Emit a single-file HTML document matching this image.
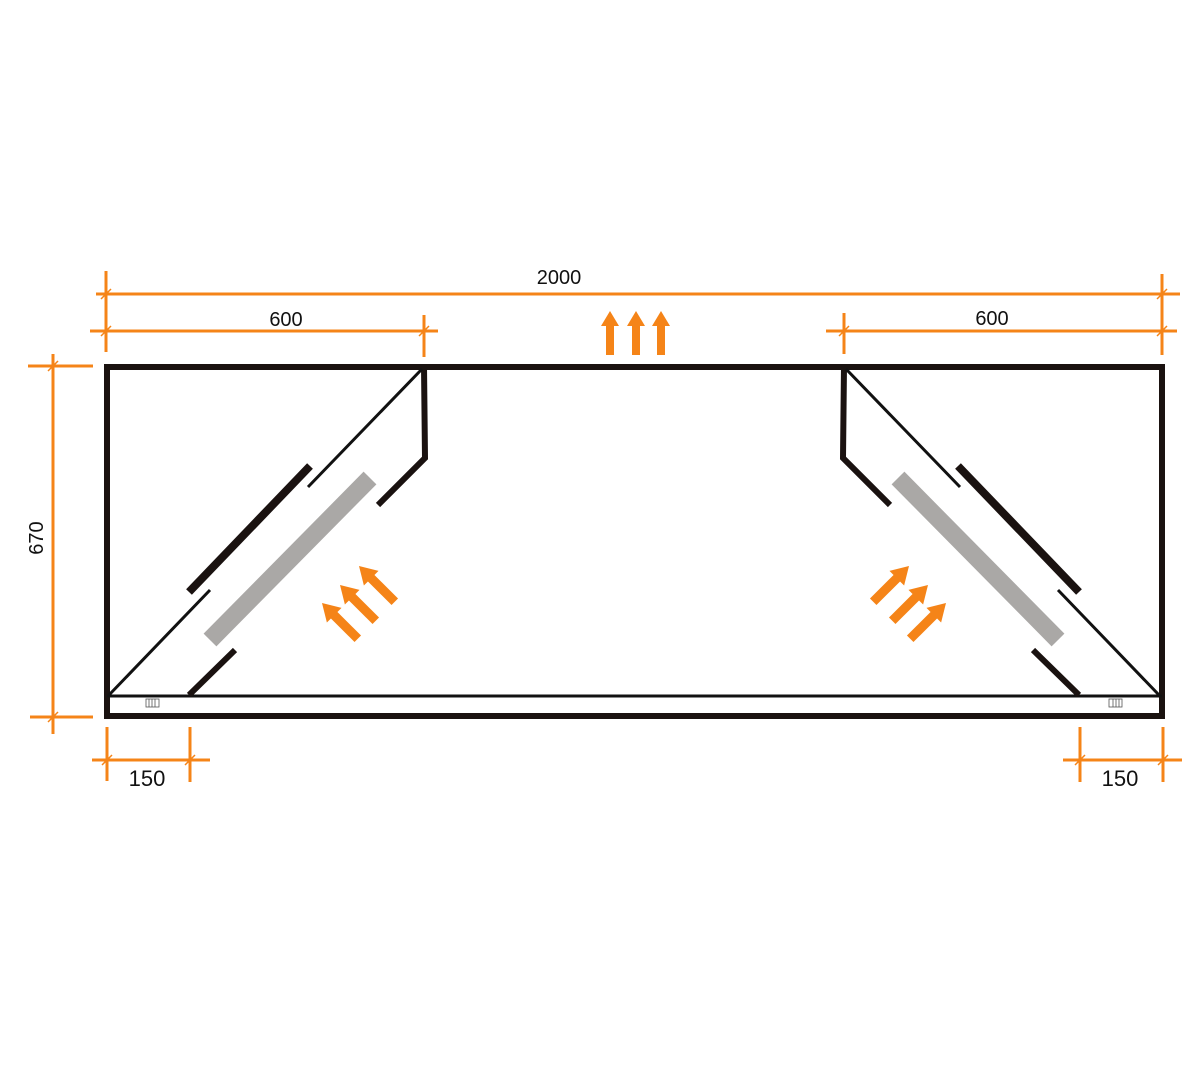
<!DOCTYPE html>
<html><head><meta charset="utf-8"><style>
html,body{margin:0;padding:0;background:#fff;}
svg{display:block;}
text{font-family:"Liberation Sans",sans-serif;fill:#111;}
</style></head><body>
<svg width="1200" height="1080" viewBox="0 0 1200 1080" xmlns="http://www.w3.org/2000/svg">
<defs>
<path id="ar" d="M0,0 L9,15 L4,15 L4,44 L-4,44 L-4,15 L-9,15 Z" fill="#f58418"/>
<g id="half">
  <polyline points="424,366 425,458 378,505" fill="none" stroke="#1a1210" stroke-width="6"/>
  <line x1="422" y1="369" x2="308" y2="487" stroke="#111" stroke-width="3"/>
  <line x1="310" y1="466" x2="189" y2="592" stroke="#1a1210" stroke-width="8"/>
  <line x1="210" y1="590" x2="109" y2="695" stroke="#111" stroke-width="3"/>
  <line x1="370" y1="478" x2="210" y2="640" stroke="#aaa8a6" stroke-width="18"/>
  <line x1="235" y1="650" x2="189" y2="695" stroke="#1a1210" stroke-width="6"/>
  <g fill="none" stroke="#555" stroke-width="0.8">
    <rect x="146" y="699" width="13" height="8"/>
    <line x1="149" y1="699" x2="149" y2="707"/><line x1="152" y1="699" x2="152" y2="707"/><line x1="155" y1="699" x2="155" y2="707"/>
  </g>
  <use href="#ar" transform="translate(322,603) rotate(-45) scale(1.15)"/>
  <use href="#ar" transform="translate(340,585) rotate(-45) scale(1.15)"/>
  <use href="#ar" transform="translate(359,566) rotate(-45) scale(1.15)"/>
</g>
</defs>

<rect x="107" y="367" width="1055" height="349" fill="none" stroke="#1a1210" stroke-width="6"/>
<line x1="107" y1="696" x2="1162" y2="696" stroke="#111" stroke-width="3"/>

<use href="#half"/>
<use href="#half" transform="translate(1268,0) scale(-1,1)"/>

<use href="#ar" transform="translate(610,311)"/>
<use href="#ar" transform="translate(636,311)"/>
<use href="#ar" transform="translate(661,311)"/>

<g stroke="#f58418" stroke-width="3" fill="none">
  <line x1="96" y1="294" x2="1180" y2="294"/>
  <line x1="106" y1="271" x2="106" y2="352"/>
  <line x1="1162" y1="274" x2="1162" y2="355"/>
  <line x1="90" y1="331" x2="438" y2="331"/>
  <line x1="424" y1="315" x2="424" y2="357"/>
  <line x1="826" y1="331" x2="1177" y2="331"/>
  <line x1="844" y1="313" x2="844" y2="354"/>
  <line x1="53" y1="354" x2="53" y2="734"/>
  <line x1="28" y1="366" x2="93" y2="366"/>
  <line x1="30" y1="717" x2="93" y2="717"/>
  <line x1="92" y1="760" x2="210" y2="760"/>
  <line x1="107" y1="727" x2="107" y2="781"/>
  <line x1="190" y1="727" x2="190" y2="782"/>
  <line x1="1063" y1="760" x2="1182" y2="760"/>
  <line x1="1080" y1="727" x2="1080" y2="782"/>
  <line x1="1163" y1="727" x2="1163" y2="782"/>
</g>
<g stroke="#f58418" stroke-width="1.5">
  <line x1="101" y1="299" x2="111" y2="289"/>
  <line x1="1157" y1="299" x2="1167" y2="289"/>
  <line x1="101" y1="336" x2="111" y2="326"/>
  <line x1="419" y1="336" x2="429" y2="326"/>
  <line x1="839" y1="336" x2="849" y2="326"/>
  <line x1="1157" y1="336" x2="1167" y2="326"/>
  <line x1="48" y1="371" x2="58" y2="361"/>
  <line x1="48" y1="722" x2="58" y2="712"/>
  <line x1="102" y1="765" x2="112" y2="755"/>
  <line x1="185" y1="765" x2="195" y2="755"/>
  <line x1="1075" y1="765" x2="1085" y2="755"/>
  <line x1="1158" y1="765" x2="1168" y2="755"/>
</g>

<text x="559" y="284" font-size="20" text-anchor="middle">2000</text>
<text x="286" y="326" font-size="20" text-anchor="middle">600</text>
<text x="992" y="325" font-size="20" text-anchor="middle">600</text>
<text x="147" y="786" font-size="22" text-anchor="middle">150</text>
<text x="1120" y="786" font-size="22" text-anchor="middle">150</text>
<text x="0" y="0" font-size="20" text-anchor="middle" transform="translate(43,538) rotate(-90)">670</text>
</svg>
</body></html>
